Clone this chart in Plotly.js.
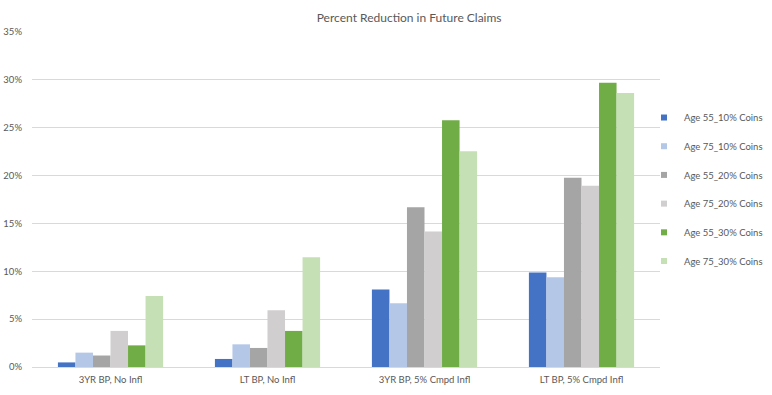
<!DOCTYPE html>
<html>
<head>
<meta charset="utf-8">
<script src="https://cdn.plot.ly/plotly-3.0.1.min.js"></script>
<style>html,body{margin:0;padding:0;background:#fff;}#chart{width:772px;height:395px;}</style>
</head>
<body>
<div id="chart"></div>
<script>
const categories = ["3YR BP, No Infl", "LT BP, No Infl", "3YR BP, 5% Cmpd Infl", "LT BP, 5% Cmpd Infl"];
const seriesNames = ["Age 55_10% Coins", "Age 75_10% Coins", "Age 55_20% Coins", "Age 75_20% Coins", "Age 55_30% Coins", "Age 75_30% Coins"];
const age55_10 = [0.0048, 0.0084, 0.0809, 0.0987];
const age75_10 = [0.0150, 0.0237, 0.0666, 0.0938];
const age55_20 = [0.0120, 0.0199, 0.1670, 0.1978];
const age75_20 = [0.0377, 0.0592, 0.1416, 0.1894];
const age55_30 = [0.0226, 0.0377, 0.2577, 0.2970];
const age75_30 = [0.0743, 0.1147, 0.2253, 0.2863];
const colors = ["#4472C4", "#B4C7E7", "#A5A5A5", "#D0CECE", "#70AD47", "#C5E0B4"];
const allSeries = [age55_10, age75_10, age55_20, age75_20, age55_30, age75_30];

const barTraces = allSeries.map((vals, i) => ({
  type: "bar",
  name: seriesNames[i],
  x: categories,
  y: vals,
  marker: {color: colors[i]},
  showlegend: false,
  hoverinfo: "y+name"
}));
// legend-only entries (small square keys, no data points)
const legendTraces = seriesNames.map((n, i) => ({
  type: "scatter",
  mode: "markers",
  name: n,
  x: [null],
  y: [null],
  marker: {symbol: "square", size: 6, color: colors[i]},
  legendgroup: "g" + i,
  showlegend: true
}));

const font = "Lato, 'Open Sans', sans-serif";
const layout = {
  width: 772, height: 395,
  margin: {l: 32, r: 112, t: 32, b: 28, autoexpand: false},
  paper_bgcolor: "#ffffff",
  plot_bgcolor: "#ffffff",
  font: {family: font, color: "#595959", size: 10},
  title: {text: "Percent Reduction in Future Claims", x: 0.53, xanchor: "center", y: 0.954, yanchor: "middle", font: {family: font, size: 12, color: "#595959"}},
  barmode: "group",
  bargap: 0.33,
  bargroupgap: 0,
  xaxis: {tickfont: {size: 9.5, color: "#595959"}, showline: false, ticks: "", ticklabelstandoff: 5, automargin: false},
  yaxis: {range: [0, 0.35], dtick: 0.05, tickformat: ".0%", gridcolor: "#D9D9D9", gridwidth: 1, zeroline: true, zerolinecolor: "#D9D9D9", zerolinewidth: 1, tickfont: {size: 9.5, color: "#595959"}, ticks: "", ticklen: 0, ticklabelstandoff: 9, automargin: false},
  legend: {x: 0.9745, xanchor: "left", y: 0.788, yanchor: "top", font: {size: 9.5, color: "#595959"}, tracegroupgap: 9.7, itemwidth: 30, bgcolor: "rgba(0,0,0,0)"},
  showlegend: true
};
Plotly.newPlot("chart", barTraces.concat(legendTraces), layout, {displayModeBar: false, staticPlot: true});
</script>
</body>
</html>
